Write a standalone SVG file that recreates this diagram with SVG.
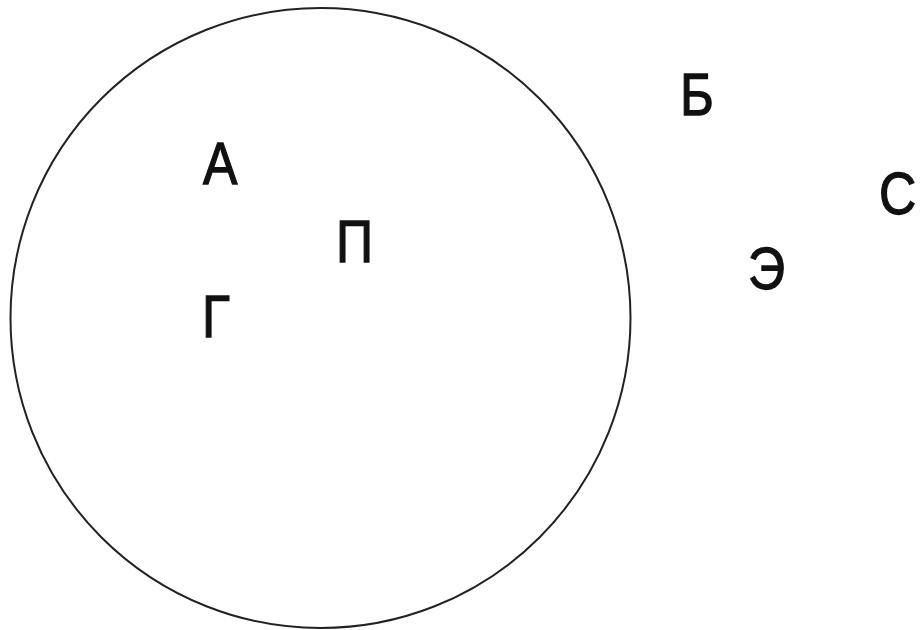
<svg xmlns="http://www.w3.org/2000/svg" width="920" height="630" viewBox="0 0 920 630">
<style>
.lbl{font-family:"Liberation Sans","Noto Sans",Arial,sans-serif;font-size:60px;fill:#111;stroke:#111;stroke-width:1.3px;}
.set{fill:none;stroke:#222;stroke-width:2;}
</style>
<rect width="920" height="630" fill="#fff"/>
<g id="set-circle"><circle class="set" cx="320.5" cy="318" r="310"/></g>
<g id="connectors"></g>
<g id="node-A"><text class="lbl" transform="translate(203,184) scale(0.86,1)">А</text></g>
<g id="node-P"><text class="lbl" transform="translate(336,262) scale(0.86,1)">П</text></g>
<g id="node-G"><text class="lbl" transform="translate(202,337) scale(0.86,1)">Г</text></g>
<g id="node-B"><text class="lbl" transform="translate(680,115) scale(0.86,1)">Б</text></g>
<g id="node-S"><text class="lbl" transform="translate(879,214) scale(0.86,1)">С</text></g>
<g id="node-E"><text class="lbl" transform="translate(748,289) scale(0.86,1)">Э</text></g>
</svg>
